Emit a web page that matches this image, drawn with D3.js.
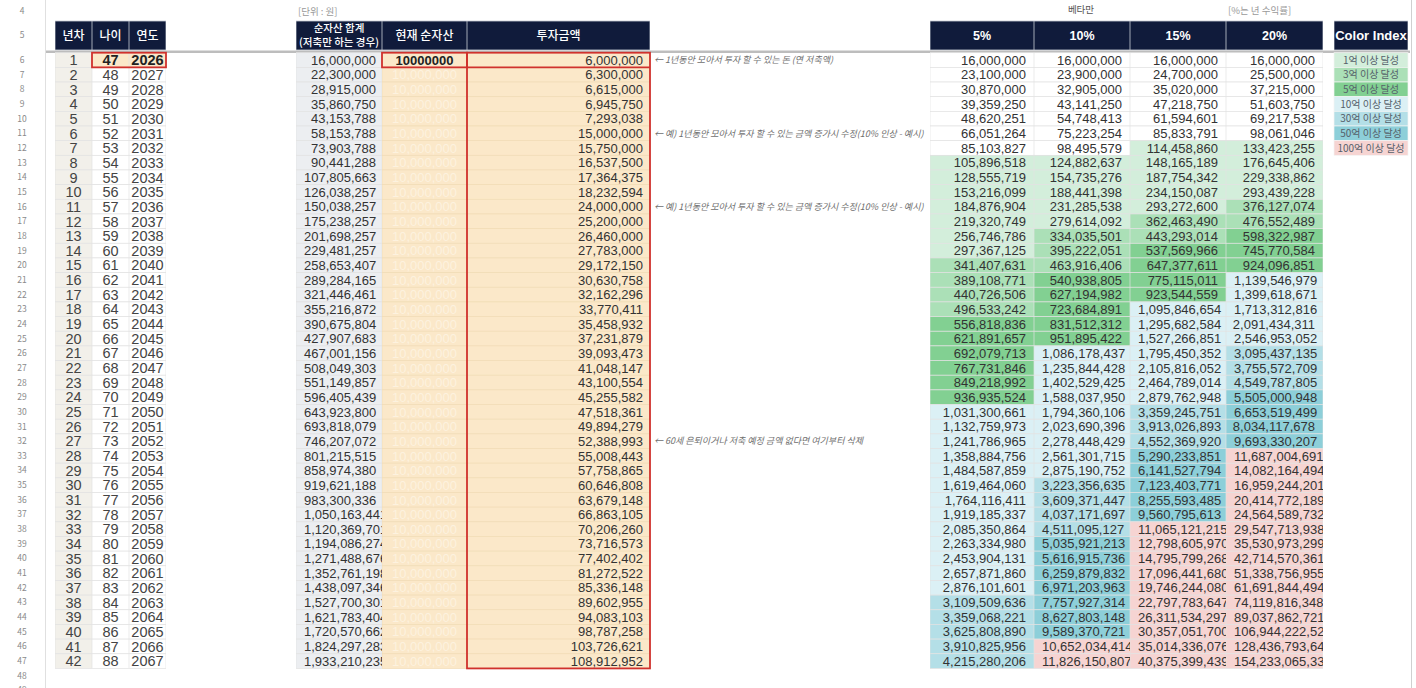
<!DOCTYPE html>
<html>
<head>
<meta charset="utf-8">
<script src="https://cdn.jsdelivr.net/npm/d3@7"></script>
<style>
  html, body { margin: 0; padding: 0; background: #fff; overflow: hidden; }
  svg { display: block; }
</style>
</head>
<body>
<svg id="sheet" width="1416" height="688"></svg>
<script>
// ---- data ----
const yearNo = [1,2,3,4,5,6,7,8,9,10,11,12,13,14,15,16,17,18,19,20,21,22,23,24,25,26,27,28,29,30,31,32,33,34,35,36,37,38,39,40,41,42];
const ages = [47,48,49,50,51,52,53,54,55,56,57,58,59,60,61,62,63,64,65,66,67,68,69,70,71,72,73,74,75,76,77,78,79,80,81,82,83,84,85,86,87,88];
const years = [2026,2027,2028,2029,2030,2031,2032,2033,2034,2035,2036,2037,2038,2039,2040,2041,2042,2043,2044,2045,2046,2047,2048,2049,2050,2051,2052,2053,2054,2055,2056,2057,2058,2059,2060,2061,2062,2063,2064,2065,2066,2067];

const netTotal = [16000000,22300000,28915000,35860750,43153788,58153788,73903788,90441288,107805663,126038257,
  150038257,175238257,201698257,229481257,258653407,289284165,321446461,355216872,390675804,427907683,
  467001156,508049303,551149857,596405439,643923800,693818079,746207072,801215515,858974380,919621188,
  983300336,1050163441,1120369701,1194086274,1271488676,1352761198,1438097346,1527700301,1621783404,1720570662,
  1824297283,1933210235];

const currentNet = 10000000;

const invest = [6000000,6300000,6615000,6945750,7293038,15000000,15750000,16537500,17364375,18232594,
  24000000,25200000,26460000,27783000,29172150,30630758,32162296,33770411,35458932,37231879,
  39093473,41048147,43100554,45255582,47518361,49894279,52388993,55008443,57758865,60646808,
  63679148,66863105,70206260,73716573,77402402,81272522,85336148,89602955,94083103,98787258,
  103726621,108912952];

const rate5 = [16000000,23100000,30870000,39359250,48620251,66051264,85103827,105896518,128555719,153216099,
  184876904,219320749,256746786,297367125,341407631,389108771,440726506,496533242,556818836,621891657,
  692079713,767731846,849218992,936935524,1031300661,1132759973,1241786965,1358884756,1484587859,1619464060,
  1764116411,1919185337,2085350864,2263334980,2453904131,2657871860,2876101601,3109509636,3359068221,3625808890,
  3910825956,4215280206];

const rate10 = [16000000,23900000,32905000,43141250,54748413,75223254,98495579,124882637,154735276,188441398,
  231285538,279614092,334035501,395222051,463916406,540938805,627194982,723684891,831512312,951895422,
  1086178437,1235844428,1402529425,1588037950,1794360106,2023690396,2278448429,2561301715,2875190752,3223356635,
  3609371447,4037171697,4511095127,5035921213,5616915736,6259879832,6971203963,7757927314,8627803148,9589370721,
  10652034414,11826150807];

const rate15 = [16000000,24700000,35020000,47218750,61594601,85833791,114458860,148165189,187754342,234150087,
  293272600,362463490,443293014,537569966,647377611,775115011,923544559,1095846654,1295682584,1527266851,
  1795450352,2105816052,2464789014,2879762948,3359245751,3913026893,4552369920,5290233851,6141527794,7123403771,
  8255593485,9560795613,11065121215,12798605970,14795799268,17096441680,19746244080,22797783647,26311534297,30357051700,
  35014336076,40375399439];

const rate20 = [16000000,25500000,37215000,51603750,69217538,98061046,133423255,176645406,229338862,293439228,
  376127074,476552489,598322987,745770584,924096851,1139546979,1399618671,1713312816,2091434311,2546953052,
  3095437135,3755572709,4549787805,5505000948,6653519499,8034117678,9693330207,11687004691,14082164494,16959244201,
  20414772189,24564589732,29547713938,35530973299,42714570361,51338756955,61691844494,74119816348,89037862721,106944222525,
  128436793645,154233065335];

const rateHeaders = ["5%", "10%", "15%", "20%"];
const leftHeaders = ["년차", "나이", "연도"];
const midHeaders = ["순자산 합계|(저축만 하는 경우)", "현재 순자산", "투자금액"];
const legendLabels = ["1억 이상 달성", "3억 이상 달성", "5억 이상 달성", "10억 이상 달성", "30억 이상 달성", "50억 이상 달성", "100억 이상 달성"];
const thresholds = [1e8, 3e8, 5e8, 1e9, 3e9, 5e9, 1e10];
const notes = [
  { at: 1,  text: "← 1년동안 모아서 투자 할 수 있는 돈 (연 저축액)" },
  { at: 6,  text: "← 예) 1년동안 모아서 투자 할 수 있는 금액 증가시 수정(10% 인상 - 예시)" },
  { at: 11, text: "← 예) 1년동안 모아서 투자 할 수 있는 금액 증가시 수정(10% 인상 - 예시)" },
  { at: 27, text: "← 60세 은퇴이거나 저축 예정 금액 없다면 여기부터 삭제" }
];
const sheetRows = [4,5,6,7,8,9,10,11,12,13,14,15,16,17,18,19,20,21,22,23,24,25,26,27,28,29,30,31,32,33,34,35,36,37,38,39,40,41,42,43,44,45,46,47,48,49];

// ---- styles / layout ----
const NUM_FONT = "'Liberation Sans', Arial, sans-serif";
const KR_FONT = "'Noto Sans CJK KR', 'Noto Sans', sans-serif";
const NAVY = "#101b3b";
const PEACH = "#fbe8c9";
const RED = "#d0312d";
const GRID = "#e2e2e2";
const binColors = ["#ffffff", "#d3eedb", "#abe0b7", "#82d092", "#dbf0f5", "#b4dfe7", "#8dcfd9", "#f6d4d2"];

const headTop = 21, headH = 29;
const rowTop = 52.7, rowH = 14.66;

const cols = {
  no:  [55, 92],   age: [92, 129],  yr:  [129, 166],
  net: [296, 382], cur: [382, 467], inv: [467, 650],
  p5:  [930, 1034], p10: [1034, 1130], p15: [1130, 1226], p20: [1226, 1323],
  ci:  [1334, 1408]
};

const fmt = d3.format(",");
const y = d3.scaleBand().domain(yearNo).range([rowTop, rowTop + yearNo.length * rowH]);
const color = d3.scaleThreshold().domain(thresholds).range(binColors);

const svg = d3.select("#sheet");
const defs = svg.append("defs");

function clipFor(key, x0, x1) {
  defs.append("clipPath").attr("id", "clip-" + key)
    .append("rect").attr("x", x0).attr("y", 0).attr("width", x1 - x0).attr("height", 688);
  return `url(#clip-${key})`;
}

// row number gutter
const gutter = svg.append("g");
gutter.append("line").attr("x1", 45.5).attr("x2", 45.5).attr("y1", 0).attr("y2", 688)
  .attr("stroke", "#e0e0e0");
gutter.selectAll("text").data(sheetRows).join("text")
  .attr("x", 22)
  .attr("y", r => r === 4 ? 11 : r === 5 ? headTop + headH / 2 : rowTop + (r - 6 + 0.5) * rowH)
  .attr("dy", "0.35em")
  .attr("text-anchor", "middle")
  .style("font-family", KR_FONT).style("font-size", "8.5px").style("fill", "#8a8a8a")
  .text(r => r);

// top notes
svg.append("text").attr("x", 298).attr("y", 12).attr("dy", "0.35em")
  .style("font-family", KR_FONT).style("font-size", "9.5px").style("fill", "#9a9a9a")
  .text("[단위 : 원]");
svg.append("text").attr("x", 1081).attr("y", 10).attr("dy", "0.35em").attr("text-anchor", "middle")
  .style("font-family", KR_FONT).style("font-size", "9.5px").style("fill", "#555")
  .text("베타만");
svg.append("text").attr("x", 1228).attr("y", 11).attr("dy", "0.35em")
  .style("font-family", KR_FONT).style("font-size", "9.5px").style("fill", "#9a9a9a")
  .text("[%는 년 수익률]");

// header cells
function header(key, label, bold, size) {
  const [x0, x1] = cols[key];
  const g = svg.append("g").attr("clip-path", clipFor("h-" + key, x0, x1));
  g.append("rect").attr("x", x0).attr("y", headTop).attr("width", x1 - x0).attr("height", headH)
    .attr("fill", NAVY).attr("stroke", "#c9ccd4").attr("stroke-width", 0.8);
  const lines = label.split("|");
  lines.forEach((ln, i) => {
    g.append("text")
      .attr("x", (x0 + x1) / 2)
      .attr("y", headTop + headH / 2 + (i - (lines.length - 1) / 2) * 13.5)
      .attr("dy", "0.34em").attr("text-anchor", "middle")
      .style("font-family", /[가-힣]/.test(ln) ? KR_FONT : NUM_FONT)
      .style("font-size", (lines.length > 1 ? 10.5 : size) + "px")
      .style("font-weight", bold ? "bold" : 500)
      .style("fill", "#fff")
      .text(ln);
  });
}
["no", "age", "yr"].forEach((k, i) => header(k, leftHeaders[i], false, 12));
["net", "cur", "inv"].forEach((k, i) => header(k, midHeaders[i], false, 12));
["p5", "p10", "p15", "p20"].forEach((k, i) => header(k, rateHeaders[i], true, 12.5));
header("ci", "Color Index", true, 13);

// frozen row divider
svg.append("line").attr("x1", 46).attr("x2", 1410).attr("y1", rowTop - 1).attr("y2", rowTop - 1)
  .attr("stroke", "#bdbdbd").attr("stroke-width", 2.4);

// data columns
function column(key, values, opt) {
  const [x0, x1] = cols[key];
  const w = x1 - x0;
  const g = svg.append("g").attr("clip-path", clipFor(key, x0, x1));
  g.selectAll("rect").data(values).join("rect")
    .attr("x", x0).attr("y", (d, i) => y(yearNo[i]))
    .attr("width", w).attr("height", y.bandwidth())
    .attr("fill", (d, i) => opt.fill(d, i))
    .attr("stroke", opt.grid || GRID).attr("stroke-width", 0.7);
  g.selectAll("text").data(values).join("text")
    .attr("y", (d, i) => y(yearNo[i]) + y.bandwidth() / 2)
    .attr("dy", "0.36em")
    .style("font-family", opt.font || NUM_FONT)
    .style("font-size", (opt.size || 13) + "px")
    .style("font-weight", (d, i) => opt.bold && opt.bold(i) ? "bold" : "normal")
    .style("fill", (d, i) => opt.color ? opt.color(i) : "#333")
    .text((d, i) => opt.label ? opt.label(d, i) : fmt(d))
    .each(function () {
      const t = d3.select(this);
      const tw = this.getComputedTextLength();
      if (opt.align === "center") {
        t.attr("x", x0 + w / 2).attr("text-anchor", "middle");
      } else if (tw > w - 14) {
        t.attr("x", x0 + 8).attr("text-anchor", "start");   // overflow: cut like the sheet
      } else {
        t.attr("x", x1 - (opt.pad || 7)).attr("text-anchor", "end");
      }
    });
}

const leftInk = i => (i === 0 ? "#222" : "#444");
column("no", yearNo, { fill: () => "#f2f0ea", align: "center", size: 14.5, label: d => d, color: () => "#444" });
column("age", ages, { fill: (d, i) => i === 0 ? PEACH : "#ffffff", align: "center", size: 14.5,
  label: d => d, bold: i => i === 0, color: leftInk });
column("yr", years, { fill: (d, i) => i === 0 ? PEACH : "#ffffff", align: "center", size: 14.5,
  label: d => d, bold: i => i === 0, color: leftInk });

column("net", netTotal, { fill: () => "#eceef1", pad: 6 });
column("cur", yearNo.map(() => currentNet), {
  fill: () => PEACH, grid: "#f1dcb6", align: "center",
  label: (d, i) => i === 0 ? String(d) : fmt(d),
  bold: i => i === 0,
  color: i => i === 0 ? "#222" : "#fdf2df"
});
column("inv", invest, { fill: () => PEACH, grid: "#f1dcb6" });

[["p5", rate5], ["p10", rate10], ["p15", rate15], ["p20", rate20]].forEach(([k, vals]) =>
  column(k, vals, { fill: d => color(d), pad: 8 }));

// colour legend
const [cx0, cx1] = cols.ci;
const legend = svg.append("g");
legend.selectAll("rect").data(thresholds).join("rect")
  .attr("x", cx0).attr("y", (d, i) => y(yearNo[i]))
  .attr("width", cx1 - cx0).attr("height", y.bandwidth())
  .attr("fill", d => color(d)).attr("stroke", "#f4f4f4").attr("stroke-width", 0.7);
legend.selectAll("text").data(legendLabels).join("text")
  .attr("x", (cx0 + cx1) / 2)
  .attr("y", (d, i) => y(yearNo[i]) + y.bandwidth() / 2)
  .attr("dy", "0.36em").attr("text-anchor", "middle")
  .style("font-family", KR_FONT).style("font-size", "10px").style("fill", "#55606a")
  .text(d => d);

// red outlines
const outline = svg.append("g").attr("fill", "none").attr("stroke", RED).attr("stroke-width", 1.8);
const r0 = y(yearNo[0]), rb = y.bandwidth();
outline.append("rect").attr("x", cols.age[0]).attr("y", r0).attr("width", cols.yr[1] - cols.age[0]).attr("height", rb);
outline.append("rect").attr("x", cols.cur[0]).attr("y", r0).attr("width", cols.cur[1] - cols.cur[0]).attr("height", rb);
outline.append("rect").attr("x", cols.inv[0]).attr("y", r0).attr("width", cols.inv[1] - cols.inv[0])
  .attr("height", y(yearNo[yearNo.length - 1]) + rb - r0);
outline.append("line").attr("x1", cols.inv[0]).attr("x2", cols.inv[1]).attr("y1", r0 + rb).attr("y2", r0 + rb);

// handwritten side notes
const noteG = svg.append("g").attr("clip-path", clipFor("notes", 652, 929));
noteG.selectAll("text").data(notes).join("text")
  .attr("x", 654)
  .attr("y", d => y(d.at) + y.bandwidth() / 2)
  .attr("dy", "0.36em")
  .style("font-family", KR_FONT).style("font-size", "9px").style("font-style", "italic")
  .style("fill", "#6e6e6e")
  .text(d => d.text);

// right window edge
svg.append("line").attr("x1", 1411.5).attr("x2", 1411.5).attr("y1", 0).attr("y2", 688)
  .attr("stroke", "#d0d0d0");
</script>
</body>
</html>
